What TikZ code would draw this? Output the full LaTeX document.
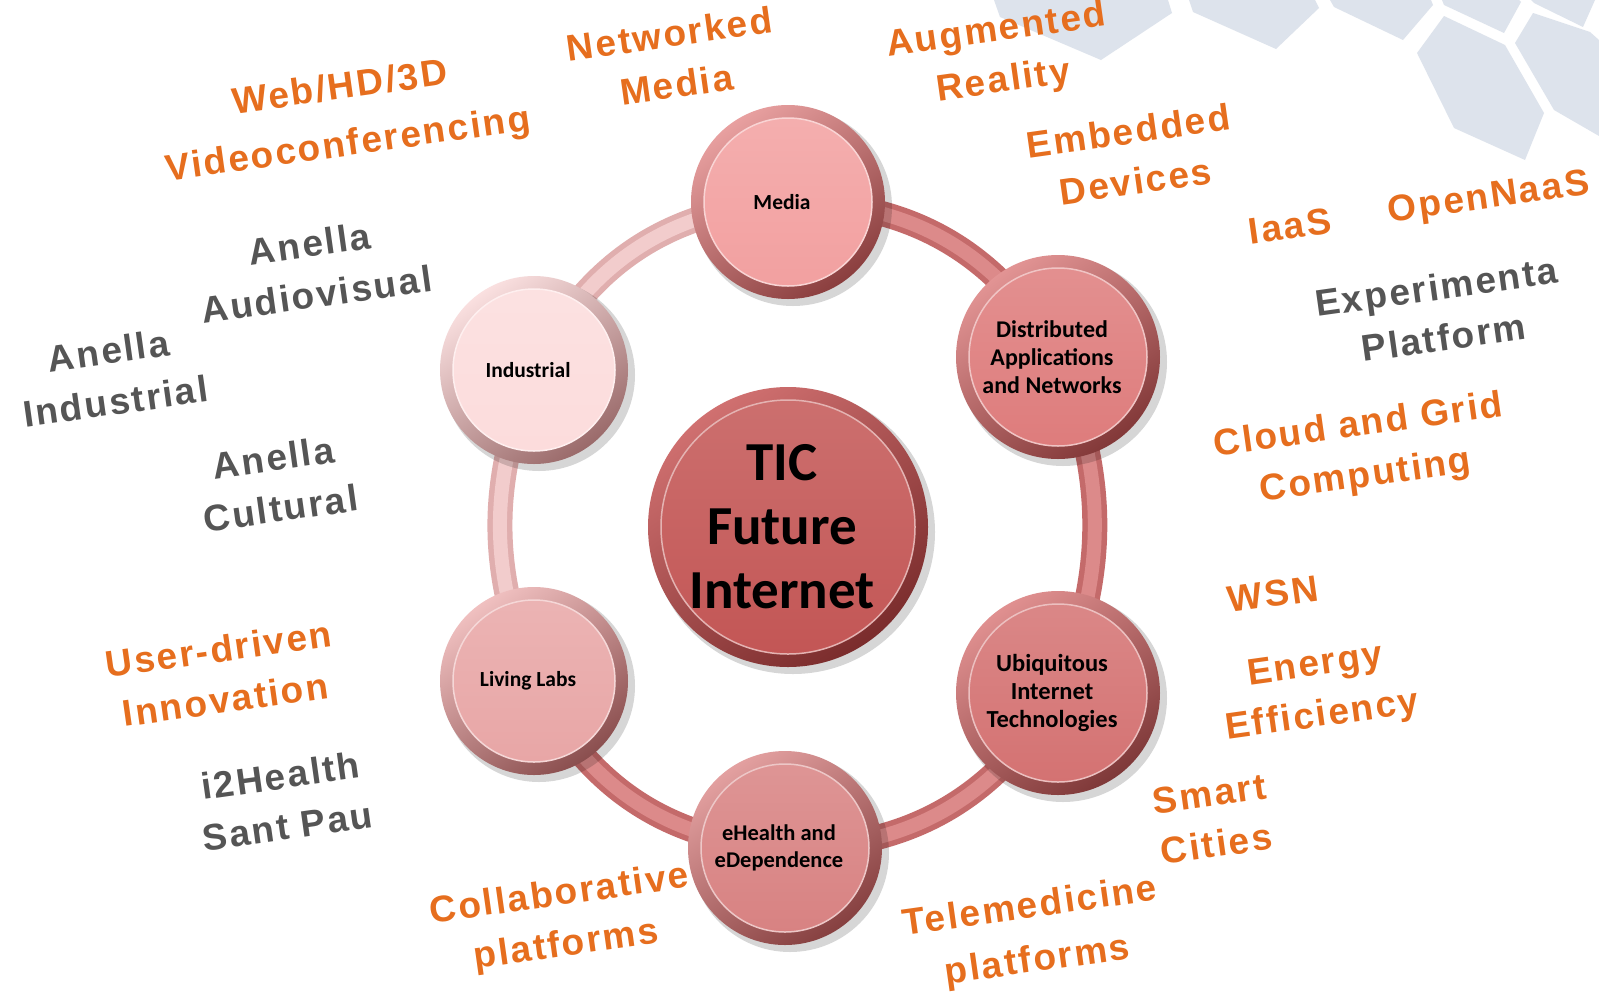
\documentclass[tikz,border=0pt]{standalone}
\usepackage{fontspec}
\setmainfont{Liberation Sans}
\newfontfamily\lblfont{Liberation Sans}[LetterSpace=6]
\newfontfamily\btnfont{Carlito}
\usetikzlibrary{backgrounds}
\definecolor{orT}{HTML}{E66E1E}
\definecolor{grT}{HTML}{555555}
\definecolor{hexc}{HTML}{DDE3EC}
\definecolor{rimA}{HTML}{C46A6A}
\definecolor{bandA}{HTML}{DC8A8A}
\definecolor{rimL}{HTML}{E0AEAE}
\definecolor{bandL}{HTML}{F2CCCC}
\tikzset{
  lbl/.style={font=\lblfont\bfseries\fontsize{37}{51}\selectfont, align=center, rotate=8, inner sep=0pt},
  olbl/.style={lbl, text=orT},
  glbl/.style={lbl, text=grT},
  facebox/.style={circle, inner sep=0pt},
  facetext/.style={align=center, text=black, inner sep=0pt},
  bandout/.style={line width=25pt, draw=#1},
  bandin/.style={line width=14pt, draw=#1},
  hexshape/.style={fill=hexc, draw=none}
}
\newcommand\mkbtn[8]{%
  \definecolor{#1rl}{HTML}{#4}%
  \definecolor{#1rd}{HTML}{#5}%
  \definecolor{#1fc}{HTML}{#6}%
  \fill[black,opacity=0.16] ([shift={(5,5)}]#2) circle (#3pt+2pt);
  \shade[top color=#1rl, bottom color=#1rd, shading angle=35] (#2) circle (#3pt);
  \node[facebox, minimum size=2*#3pt-26pt, top color=#1fc!85!white, bottom color=#1fc,
        draw=white!55!#1fc, line width=1.5pt] (#1) at (#2) {};
  \node[facetext, font=\btnfont\bfseries#7] (#1txt) at ([xshift=-6pt]#1.center) {#8};
}
\begin{document}
\begin{tikzpicture}[x=1pt,y=-1pt]
\useasboundingbox (0,0) rectangle (1599,997);

% buttons
\mkbtn{tic}{788,527}{140}{D07070}{7A2C2C}{C35655}{\fontsize{55}{64}\selectfont}{TIC\\Future\\Internet}
\mkbtn{media}{788,202}{97}{E8A0A0}{8A3E3E}{F2A0A0}{\fontsize{21.5}{26}\selectfont}{Media}
\mkbtn{dist}{1058,357}{102}{E29494}{823838}{DE7C7C}{\fontsize{24}{28}\selectfont}{Distributed\\Applications\\and Networks}
\mkbtn{ubiq}{1058,693}{102}{E09090}{7E3838}{D47272}{\fontsize{24.5}{28}\selectfont}{Ubiquitous\\Internet\\Technologies}
\mkbtn{ehealth}{785,848}{97}{E3A0A0}{864040}{D88282}{\fontsize{22.5}{27}\selectfont}{eHealth and\\eDependence}
\mkbtn{living}{534,681}{94}{F0C0C0}{8A4E4E}{E8A6A6}{\fontsize{21.5}{26}\selectfont}{Living Labs}
\mkbtn{industrial}{534,370}{94}{FAE0E0}{9A6A6A}{FCDCDC}{\fontsize{21.5}{26}\selectfont}{Industrial}

% labels
\node[olbl] (l1) at (344,118) {Web/HD/3D\\[6pt]Videoconferencing};
\node[olbl] (l2) at (673,59) {Networked\\Media};
\node[olbl] (l3) at (1000,57) {Augmented\\Reality};
\node[olbl] (l4) at (1132,156) {Embedded\\Devices};
\node[olbl] (l5) at (1290,226) {IaaS};
\node[olbl] (l6) at (1489,199) {OpenNaaS};
\node[glbl] (l7) at (1440,312) {Experimenta\\Platform};
\node[olbl] (l8) at (1362,452) {Cloud and Grid\\Computing};
\node[olbl] (l9) at (1273,594) {WSN};
\node[olbl] (l10) at (1319,692) {Energy\\Efficiency};
\node[olbl] (l11) at (1213,819) {Smart\\Cities};
\node[olbl] (l12) at (1034,935) {Telemedicine\\[3pt]platforms};
\node[olbl] (l13) at (563,921) {Collaborative\\platforms};
\node[glbl] (l14) at (284,801) {i2Health\\Sant Pau};
\node[olbl] (l15) at (222,674) {User-driven\\Innovation};
\node[glbl] (l16) at (277,483) {Anella\\Cultural};
\node[glbl] (l17) at (112,376) {Anella\\Industrial};
\node[glbl] (l18) at (313,269) {Anella\\Audiovisual};

\begin{scope}[on background layer]
  \fill[white] (0,0) rectangle (1599,997);
  % hexagon decoration
  \fill[hexshape] (994,0) -- (1000,17) -- (1101,60) -- (1172,13) -- (1168,0) -- cycle;
  \fill[hexshape] (1189,0) -- (1193,12) -- (1276,49) -- (1319,8) -- (1315,0) -- cycle;
  \fill[hexshape] (1330,0) -- (1334,7) -- (1403,40) -- (1433,5) -- (1431,0) -- cycle;
  \fill[hexshape] (1442,0) -- (1444,5) -- (1504,33) -- (1521,2) -- (1519,0) -- cycle;
  \fill[hexshape] (1531,0) -- (1534,3) -- (1583,27) -- (1595,0) -- cycle;
  \fill[hexshape] (1444,16) -- (1417,53) -- (1454,128) -- (1525,160) -- (1544,113) -- (1505,45) -- cycle;
  \fill[hexshape] (1533,13) -- (1515,43) -- (1554,110) -- (1599,136) -- (1599,40) -- (1590,32) -- cycle;
  % ring
  \draw[bandout=rimA] (media.center) to[bend left=30] (dist.center);
  \draw[bandout=rimA] (dist.center) to[bend left=22] (ubiq.center);
  \draw[bandout=rimA] (ubiq.center) to[bend left=30] (ehealth.center);
  \draw[bandout=rimA] (ehealth.center) to[bend left=30] (living.center);
  \draw[bandout=rimL] (living.center) to[bend left=22] (industrial.center);
  \draw[bandout=rimL] (industrial.center) to[bend left=30] (media.center);
  \draw[bandin=bandA] (media.center) to[bend left=30] (dist.center);
  \draw[bandin=bandA] (dist.center) to[bend left=22] (ubiq.center);
  \draw[bandin=bandA] (ubiq.center) to[bend left=30] (ehealth.center);
  \draw[bandin=bandA] (ehealth.center) to[bend left=30] (living.center);
  \draw[bandin=bandL] (living.center) to[bend left=22] (industrial.center);
  \draw[bandin=bandL] (industrial.center) to[bend left=30] (media.center);
\end{scope}
\end{tikzpicture}
\end{document}
